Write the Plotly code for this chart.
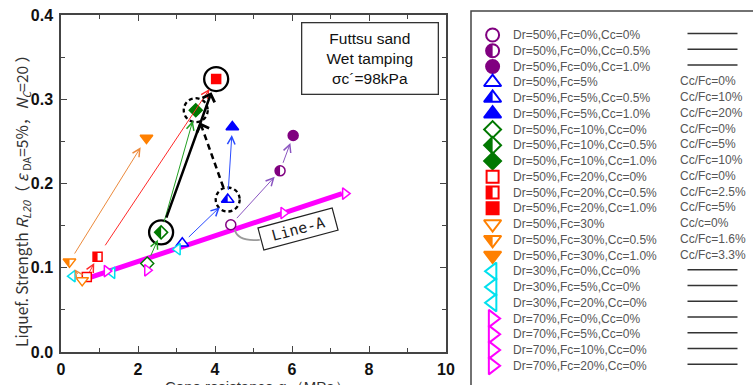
import math
import plotly.graph_objects as go

# ---------------- data ----------------
purple_x = [4.41, 5.69, 6.03]
purple_y = [0.151, 0.215, 0.257]
blue_x = [3.15, 4.33, 4.45]
blue_y = [0.129, 0.181, 0.267]
green_x = [2.24, 2.60, 3.50]
green_y = [0.105, 0.142, 0.287]
red_x = [0.67, 0.95, 4.03]
red_y = [0.089, 0.113, 0.324]
orange_x = [0.55, 0.22, 2.22]
orange_y = [0.085, 0.107, 0.254]
cyan_x = [3.03, 1.33, 0.30]
cyan_y = [0.122, 0.094, 0.090]
magenta_x = [7.38, 5.78, 2.24, 1.19]
magenta_y = [0.188, 0.165, 0.097, 0.096]
lineA_x = [0.72, 7.30]
lineA_y = [0.088, 0.188]

purple_labels = ["Dr=50%,Fc=0%,Cc=0%", "Dr=50%,Fc=0%,Cc=0.5%", "Dr=50%,Fc=0%,Cc=1.0%"]
blue_labels = ["Dr=50%,Fc=5%", "Dr=50%,Fc=5%,Cc=0.5%", "Dr=50%,Fc=5%,Cc=1.0%"]
green_labels = ["Dr=50%,Fc=10%,Cc=0%", "Dr=50%,Fc=10%,Cc=0.5%", "Dr=50%,Fc=10%,Cc=1.0%"]
red_labels = ["Dr=50%,Fc=20%,Cc=0%", "Dr=50%,Fc=20%,Cc=0.5%", "Dr=50%,Fc=20%,Cc=1.0%"]
orange_labels = ["Dr=50%,Fc=30%", "Dr=50%,Fc=30%,Cc=0.5%", "Dr=50%,Fc=30%,Cc=1.0%"]
cyan_labels = ["Dr=30%,Fc=0%,Cc=0%", "Dr=30%,Fc=5%,Cc=0%", "Dr=30%,Fc=20%,Cc=0%"]
magenta_labels = ["Dr=70%,Fc=0%,Cc=0%", "Dr=70%,Fc=5%,Cc=0%", "Dr=70%,Fc=10%,Cc=0%", "Dr=70%,Fc=20%,Cc=0%"]

blue_notes = ["Cc/Fc=0%", "Cc/Fc=10%", "Cc/Fc=20%"]
green_notes = ["Cc/Fc=0%", "Cc/Fc=5%", "Cc/Fc=10%"]
red_notes = ["Cc/Fc=0%", "Cc/Fc=2.5%", "Cc/Fc=5%"]
orange_notes = ["Cc/c=0%", "Cc/Fc=1.6%", "Cc/Fc=3.3%"]

x_ticks = [0, 2, 4, 6, 8, 10]
y_ticks = [0.0, 0.1, 0.2, 0.3, 0.4]

# ---------------- layout geometry ----------------
W, H = 753, 385
PX0, PX1, PY0, PY1 = 61, 446, 15, 352
XR = [0, 10]
YR = [0, 0.4]
SX = (PX1 - PX0) / (XR[1] - XR[0])
SY = (PY1 - PY0) / (YR[1] - YR[0])
LEG_L, LEG_T = 471, 11
ROW0, ROWH = 35, 15.75

groups = [
    dict(x=purple_x, y=purple_y, sym="circle", color="#800080", acol="#8a55c0",
         fills=["open", "half", "full"], labels=purple_labels, notes=[None] * 3, ps=10, ls=13),
    dict(x=blue_x, y=blue_y, sym="triangle-up", color="#0000ff", acol="#2a4bff",
         fills=["open", "half", "full"], labels=blue_labels, notes=blue_notes, ps=11, ls=15),
    dict(x=green_x, y=green_y, sym="diamond", color="#007800", acol="#22a022",
         fills=["open", "half", "full"], labels=green_labels, notes=green_notes, ps=10, ls=13),
    dict(x=red_x, y=red_y, sym="square", color="#ff0000", acol="#ff2a2a",
         fills=["open", "half", "full"], labels=red_labels, notes=red_notes, ps=9, ls=12),
    dict(x=orange_x, y=orange_y, sym="triangle-down", color="#ff8000", acol="#ec8a3c",
         fills=["open", "half", "full"], labels=orange_labels, notes=orange_notes, ps=11, ls=15),
    dict(x=cyan_x, y=cyan_y, sym="triangle-left", color="#00e0ee", acol=None,
         fills=["open"] * 3, labels=cyan_labels, notes=[None] * 3, ps=10, ls=15),
    dict(x=magenta_x, y=magenta_y, sym="triangle-right", color="#ff00ff", acol=None,
         fills=["open"] * 4, labels=magenta_labels, notes=[None] * 4, ps=10, ls=15),
]


def half_path(sym, size):
    r = size / 2.0
    k = 0.5523
    if sym == "circle":
        return (f"M0,{r:.2f} C{-k*r:.2f},{r:.2f} {-r:.2f},{k*r:.2f} {-r:.2f},0 "
                f"C{-r:.2f},{-k*r:.2f} {-k*r:.2f},{-r:.2f} 0,{-r:.2f} Z")
    if sym == "square":
        return f"M0,{r:.2f} H{-r:.2f} V{-r:.2f} H0 Z"
    if sym == "diamond":
        d = 1.3 * r
        return f"M0,{d:.2f} L{-d:.2f},0 L0,{-d:.2f} Z"
    rt = r * 2 / math.sqrt(3)
    if sym == "triangle-up":
        return f"M0,{r:.2f} L{-rt:.2f},{-r/2:.2f} H0 Z"
    if sym == "triangle-down":
        return f"M0,{-r:.2f} L{-rt:.2f},{r/2:.2f} H0 Z"
    return ""


fig = go.Figure()
shapes = []
annotations = []

# Line-A
fig.add_trace(go.Scatter(x=lineA_x, y=lineA_y, mode="lines",
                         line=dict(color="#ff00ff", width=5), showlegend=False, hoverinfo="skip"))

# dashed black arrow (blue half -> green full)
ax_, ay_ = blue_x[1], blue_y[1]
bx_, by_ = green_x[2], green_y[2]
dxp = (bx_ - ax_) * SX
dyp = (by_ - ay_) * SY
Lp = math.hypot(dxp, dyp)
ux, uy = dxp / Lp, dyp / Lp
s0, s1 = 13, 23
fig.add_trace(go.Scatter(
    x=[ax_ + ux * s0 / SX, bx_ - ux * s1 / SX],
    y=[ay_ + uy * s0 / SY, by_ - uy * s1 / SY],
    mode="lines", line=dict(color="black", width=2.5, dash="6px,4px"),
    showlegend=False, hoverinfo="skip"))
annotations.append(dict(x=bx_, y=by_, xref="x", yref="y", ax=-ux * s1, ay=uy * s1,
                        axref="pixel", ayref="pixel", showarrow=True, arrowhead=4,
                        arrowsize=1, arrowwidth=2.5, arrowcolor="black", standoff=13, text=""))

# markers in plot
for g in groups:
    for i, (x, y) in enumerate(zip(g["x"], g["y"])):
        f = g["fills"][i]
        fig.add_trace(go.Scatter(
            x=[x], y=[y], mode="markers", showlegend=False, hoverinfo="skip",
            marker=dict(symbol=g["sym"], size=g["ps"],
                        color=(g["color"] if f == "full" else "white"),
                        line=dict(color=g["color"], width=1.5))))
        if f == "half":
            shapes.append(dict(type="path", xref="x", yref="y", xsizemode="pixel", ysizemode="pixel",
                               xanchor=x, yanchor=y, path=half_path(g["sym"], g["ps"]),
                               fillcolor=g["color"], line=dict(width=0), layer="above"))

# coloured arrows between successive states
arrow_std = {  # (standoff, startstandoff) for arrows 0->1, 1->2
    "#800080": [(8, 7), (8, 7)],
    "#0000ff": [(11, 7), (8, 8)],
    "#007800": [(8, 7), (11, 9)],
    "#ff0000": [(7, 4), (12, 12)],
    "#ff8000": [(9, 6), (11, 8)],
}
for g in groups:
    if g["acol"] is None:
        continue
    for i in range(len(g["x"]) - 1):
        so, sso = arrow_std[g["color"]][i]
        annotations.append(dict(x=g["x"][i + 1], y=g["y"][i + 1], ax=g["x"][i], ay=g["y"][i],
                                xref="x", yref="y", axref="x", ayref="y", showarrow=True,
                                arrowhead=5, arrowsize=1.5, arrowwidth=1, arrowcolor=g["acol"],
                                standoff=so, startstandoff=sso, text=""))

# black solid arrow (green half -> red full)
annotations.append(dict(x=red_x[2], y=red_y[2], ax=green_x[1], ay=green_y[1],
                        xref="x", yref="y", axref="x", ayref="y", showarrow=True,
                        arrowhead=4, arrowsize=1, arrowwidth=2.5, arrowcolor="black",
                        standoff=14, startstandoff=14, text=""))

# highlight circles
for (cx, cy, dash) in [(red_x[2], red_y[2], "solid"), (green_x[2], green_y[2], "dash"),
                       (green_x[1], green_y[1], "solid"), (blue_x[1], blue_y[1], "dash")]:
    shapes.append(dict(type="circle", xref="x", yref="y", xsizemode="pixel", ysizemode="pixel",
                       xanchor=cx, yanchor=cy, x0=-12, x1=12, y0=-12, y1=12,
                       line=dict(color="black", width=2.3, dash=("4px,3px" if dash == "dash" else "solid")),
                       fillcolor="rgba(0,0,0,0)", layer="above"))

# Line-A label + connector
shapes.append(dict(type="path", xref="x", yref="y", xsizemode="pixel", ysizemode="pixel",
                   xanchor=purple_x[0], yanchor=purple_y[0], path="M4,-5 Q7,-17 29,-15",
                   line=dict(color="#9a9a9a", width=1.8), layer="above"))
annotations.append(dict(x=6.16, y=0.146, xref="x", yref="y", text="Line-A", showarrow=False,
                        textangle=-15, font=dict(family="DejaVu Sans Mono", size=15, color="#222"),
                        bordercolor="#222", borderwidth=1.2, borderpad=2, bgcolor="white",
                        width=72, height=18))

# info box
annotations.append(dict(x=8.03, y=0.3487, xref="x", yref="y", showarrow=False,
                        text="Futtsu sand<br>Wet tamping<br>σc´=98kPa",
                        font=dict(family="Liberation Sans, Arial", size=15.5, color="#111"),
                        bordercolor="#333", borderwidth=1.3, borderpad=1, bgcolor="white",
                        width=133, height=68))

# axis titles
annotations.append(dict(xref="paper", yref="paper", x=22 / W, y=1 - 197 / H, showarrow=False,
                        xanchor="center", yanchor="middle", textangle=-90,
                        text="Liquef. Strength <i>R</i><sub><i>L20</i></sub>（ <i>ε</i> <sub>DA</sub>=5%，<i>N</i><sub><i>C</i></sub>=20 ）",
                        font=dict(family="Noto Sans CJK JP", size=15.5, color="#333")))
annotations.append(dict(xref="paper", yref="paper", x=257 / W, y=1 - 376 / H, xanchor="center",
                        yanchor="top", showarrow=False,
                        text="Cone resistance <i>q</i><sub>t</sub>（MPa）",
                        font=dict(family="Liberation Sans, Arial", size=15, color="#333")))

# ---------------- legend (drawn on its own hidden axes) ----------------
row = 0
leg_font = dict(family="Liberation Sans, Arial", size=12, color="#555")
for g in groups:
    for i, lab in enumerate(g["labels"]):
        f = g["fills"][i]
        fig.add_trace(go.Scatter(
            x=[21.6], y=[row], xaxis="x2", yaxis="y2", mode="markers", showlegend=False,
            hoverinfo="skip",
            marker=dict(symbol=g["sym"], size=g["ls"],
                        color=(g["color"] if f == "full" else "white"),
                        line=dict(color=g["color"], width=2))))
        if f == "half":
            shapes.append(dict(type="path", xref="x2", yref="y2", xsizemode="pixel", ysizemode="pixel",
                               xanchor=21.6, yanchor=row, path=half_path(g["sym"], g["ls"]),
                               fillcolor=g["color"], line=dict(width=0), layer="above"))
        annotations.append(dict(x=39.5, y=row, xref="x2", yref="y2", text=lab, showarrow=False,
                                xanchor="left", font=leg_font))
        note = g["notes"][i]
        if note is None:
            shapes.append(dict(type="line", xref="x2", yref="y2", x0=216.5, x1=266.5, y0=row - 0.1,
                               y1=row - 0.1, line=dict(color="#333", width=1.5)))
        else:
            annotations.append(dict(x=206.5, y=row - 0.05, xref="x2", yref="y2", text=note,
                                    showarrow=False, xanchor="left", font=leg_font))
        row += 1

shapes.append(dict(type="rect", xref="paper", yref="paper", x0=LEG_L / W, x1=1.1, y0=-0.1,
                   y1=(H - LEG_T) / H, line=dict(color="#444", width=1.5), fillcolor="rgba(0,0,0,0)",
                   layer="below"))

tickfont = dict(family="Liberation Sans, Arial", size=16, color="#111", weight="bold")
axis_common = dict(showline=True, linecolor="#444", linewidth=1.5, mirror="allticks",
                   ticks="inside", ticklen=6, tickwidth=1.2, tickcolor="#444",
                   showgrid=False, zeroline=False, tickfont=tickfont, automargin=False)

fig.update_layout(
    width=W, height=H, margin=dict(l=0, r=0, t=0, b=0, pad=0, autoexpand=False),
    paper_bgcolor="white", plot_bgcolor="white", showlegend=False,
    xaxis=dict(domain=[PX0 / W, PX1 / W], range=XR, tickvals=x_ticks, ticktext=[str(v) for v in x_ticks],
               minor=dict(dtick=1, ticks="inside", ticklen=4, tickcolor="#444", tickwidth=1.2, showgrid=False),
               ticklabelstandoff=2, **axis_common),
    yaxis=dict(domain=[(H - PY1) / H, (H - PY0) / H], range=YR, tickvals=y_ticks,
               ticktext=[f"{v:.1f}" for v in y_ticks],
               minor=dict(dtick=0.05, ticks="inside", ticklen=4, tickcolor="#444", tickwidth=1.2, showgrid=False),
               ticklabelstandoff=3, **axis_common),
    xaxis2=dict(domain=[LEG_L / W, 1], range=[0, W - LEG_L], visible=False, anchor="y2", automargin=False),
    yaxis2=dict(domain=[0, (H - LEG_T) / H], range=[(H - ROW0) / ROWH, (LEG_T - ROW0) / ROWH],
                visible=False, anchor="x2", automargin=False),
    shapes=shapes, annotations=annotations,
)

fig.write_html("out.html")
